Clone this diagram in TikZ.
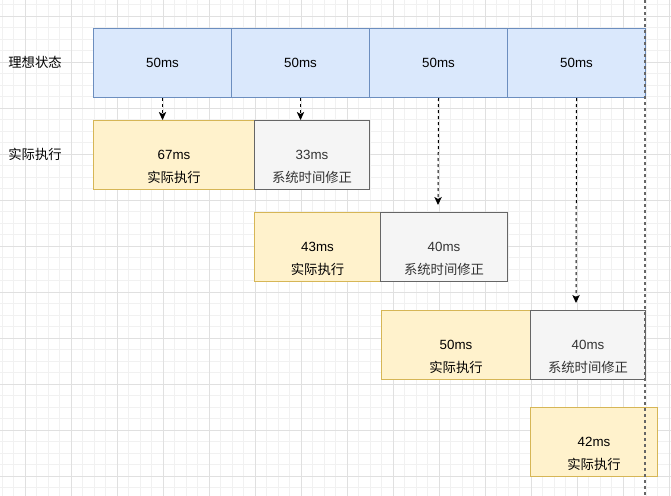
\documentclass[tikz,border=0pt]{standalone}
\usepackage{fontspec}
\setmainfont{Liberation Sans}
\newfontfamily\cjk{Noto Sans CJK SC}
\usetikzlibrary{arrows.meta}
\definecolor{bfill}{HTML}{DAE8FC}
\definecolor{bdraw}{HTML}{6C8EBF}
\definecolor{yfill}{HTML}{FFF2CC}
\definecolor{ydraw}{HTML}{D6B656}
\definecolor{gfill}{HTML}{F5F5F5}
\definecolor{gdraw}{HTML}{666666}
\definecolor{gtext}{HTML}{333333}
\definecolor{gridminor}{HTML}{F1F1F1}
\definecolor{gridmajor}{HTML}{E0E0E0}
\tikzset{
  box/.style={draw, line width=0.75pt, inner sep=0pt, anchor=north west, minimum height=51.75pt},
  bluebox/.style={box, fill=bfill, draw=bdraw, minimum width=103.5pt},
  yelbox/.style={box, fill=yfill, draw=ydraw},
  graybox/.style={box, fill=gfill, draw=gdraw},
  txt/.style={inner sep=0pt, font=\fontsize{10}{12}\selectfont},
  gtxt/.style={txt, text=gtext},
  arr/.style={draw=black, line width=0.75pt, dash pattern=on 2.25pt off 2.25pt, -{Stealth[length=6pt,width=5.5pt,inset=1.5pt]}},
  vline/.style={draw=gdraw, line width=1pt, dash pattern=on 2.25pt off 2.25pt},
  minorl/.style={draw=gridminor, line width=0.75pt},
  majorl/.style={draw=gridmajor, line width=0.75pt}
}
\begin{document}
\begin{tikzpicture}[x=0.75pt, y=-0.75pt]
\useasboundingbox (0,0) rectangle (671,496);
\fill[white] (0,0) rectangle (671,496);
% grid
\foreach \i in {0,...,58} {\draw[minorl] ({2+11.5*\i},0) -- ({2+11.5*\i},496);}
\foreach \i in {0,...,43} {\draw[minorl] (0,{4.5+11.5*\i}) -- (671,{4.5+11.5*\i});}
\foreach \i in {0,...,14} {\draw[majorl] ({25+46*\i},0) -- ({25+46*\i},496);}
\foreach \i in {0,...,10} {\draw[majorl] (0,{16+46*\i}) -- (671,{16+46*\i});}
% row labels
\node[txt] (l1) at (35,62) {\cjk 理想状态};
\node[txt] (l2) at (35,154) {\cjk 实际执行};
% ideal row
\node[bluebox] (b1) at (93,28) {};
\node[bluebox] (b2) at (231,28) {};
\node[bluebox] (b3) at (369,28) {};
\node[bluebox] (b4) at (507,28) {};
\foreach \b in {b1,b2,b3,b4} {\node[txt] at (\b.center) {50ms};}
% row 2
\node[yelbox, minimum width=120.75pt] (y1) at (93,120) {};
\node[graybox, minimum width=86.25pt] (g1) at (254,120) {};
% row 3
\node[yelbox, minimum width=94.5pt] (y2) at (254,212) {};
\node[graybox, minimum width=95.25pt] (g2) at (380,212) {};
% row 4
\node[yelbox, minimum width=111.75pt] (y3) at (381,310) {};
\node[graybox, minimum width=86.25pt] (g3) at (530,310) {};
% row 5
\node[yelbox, minimum width=95.25pt] (y4) at (530,407) {};
% texts
\node[txt] (y1a) at (y1.center) {67ms};
\node[txt] (y1b) at ([yshift=-17pt]y1.center) {\cjk 实际执行};
\node[gtxt] (g1a) at (g1.center) {33ms};
\node[gtxt] (g1b) at ([yshift=-17pt]g1.center) {\cjk 系统时间修正};
\node[txt] (y2a) at (y2.center) {43ms};
\node[txt] (y2b) at ([yshift=-17pt]y2.center) {\cjk 实际执行};
\node[gtxt] (g2a) at (g2.center) {40ms};
\node[gtxt] (g2b) at ([yshift=-17pt]g2.center) {\cjk 系统时间修正};
\node[txt] (y3a) at (y3.center) {50ms};
\node[txt] (y3b) at ([yshift=-17pt]y3.center) {\cjk 实际执行};
\node[gtxt] (g3a) at (g3.center) {40ms};
\node[gtxt] (g3b) at ([yshift=-17pt]g3.center) {\cjk 系统时间修正};
\node[txt] (y4a) at (y4.center) {42ms};
\node[txt] (y4b) at ([yshift=-17pt]y4.center) {\cjk 实际执行};
% arrows
\coordinate (e3) at (438,205);
\coordinate (e4) at (576,303);
\draw[arr] (b1.south) -- (b1.south |- y1.north);
\draw[arr] (b2.south) -- (b2.south |- g1.north);
\draw[arr] (b3.south) -- (e3);
\draw[arr] (b4.south) -- (e4);
% vertical dashed line
\coordinate (vt) at (645,0);
\coordinate (vb) at (645,496);
\draw[vline] (vt) -- (vb);
\end{tikzpicture}
\end{document}
